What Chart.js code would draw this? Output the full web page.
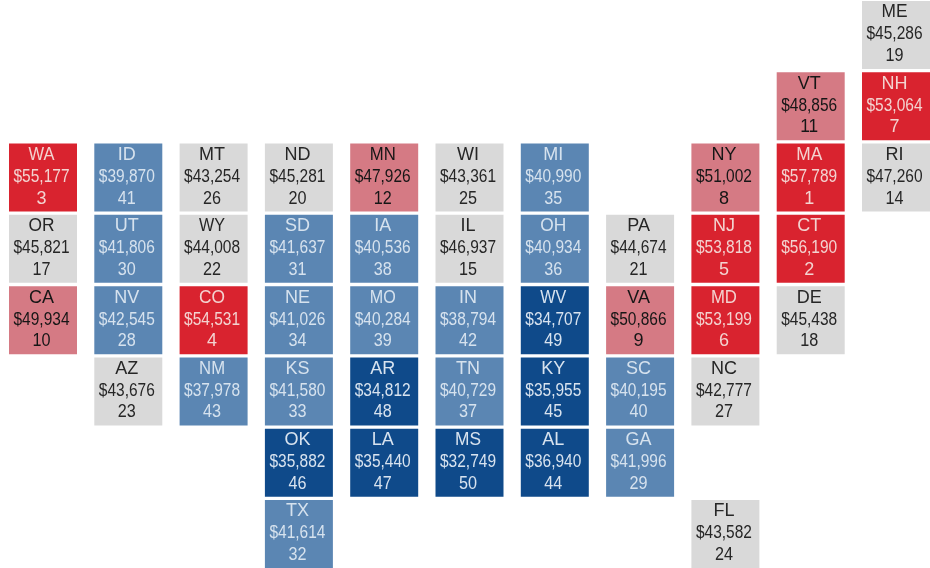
<!DOCTYPE html>
<html>
<head>
<meta charset="utf-8">
<style>
html,body{margin:0;padding:0;background:#fff;overflow:hidden}
#wrap{width:930px;height:568px;position:relative}
</style>
<script src="https://cdn.jsdelivr.net/npm/chart.js@4"></script>
</head>
<body>
<div id="wrap"><canvas id="c" width="930" height="568"></canvas></div>
<script>
const states  = ["ME","VT","NH","WA","ID","MT","ND","MN","WI","MI","NY","MA","RI","OR","UT","WY","SD","IA","IL","OH","PA","NJ","CT","CA","NV","CO","NE","MO","IN","WV","VA","MD","DE","AZ","NM","KS","AR","TN","KY","SC","NC","OK","LA","MS","AL","GA","TX","FL"];
const columns = [10,9,10,0,1,2,3,4,5,6,8,9,10,0,1,2,3,4,5,6,7,8,9,0,1,2,3,4,5,6,7,8,9,1,2,3,4,5,6,7,8,3,4,5,6,7,3,8];
const rows    = [0,1,1,2,2,2,2,2,2,2,2,2,2,3,3,3,3,3,3,3,3,3,3,4,4,4,4,4,4,4,4,4,4,5,5,5,5,5,5,5,5,6,6,6,6,6,7,7];
const incomes = [45286,48856,53064,55177,39870,43254,45281,47926,43361,40990,51002,57789,47260,45821,41806,44008,41637,40536,46937,40934,44674,53818,56190,49934,42545,54531,41026,40284,38794,34707,50866,53199,45438,43676,37978,41580,34812,40729,35955,40195,42777,35882,35440,32749,36940,41996,41614,43582];
const ranks   = [19,11,7,3,41,26,20,12,25,35,8,1,14,17,30,22,31,38,15,36,21,5,2,10,28,4,34,39,42,49,9,6,18,23,43,33,48,37,45,40,27,46,47,50,44,29,32,24];
const tiers   = ["grey","pink","red","red","blue","grey","grey","pink","grey","blue","pink","red","grey","grey","blue","grey","blue","blue","grey","blue","grey","red","red","pink","blue","red","blue","blue","blue","navy","pink","red","grey","grey","blue","blue","navy","blue","navy","blue","grey","navy","navy","navy","navy","blue","blue","grey"];

const fills = {red:"#d9232f", pink:"#d57a84", grey:"#d9d9d9", blue:"#5b86b3", navy:"#0f4a8a"};
const inks  = {red:"#f3d3d0", pink:"#161616", grey:"#262626", blue:"#d6e2ee", navy:"#d8e3ef"};

const tileLabels = {
  id: "tileLabels",
  afterDatasetsDraw(chart) {
    const {ctx, scales: {x, y}} = chart;
    ctx.save();
    ctx.textAlign = "center";
    ctx.textBaseline = "middle";
    ctx.font = '18px "Liberation Sans", Arial, sans-serif';
    states.forEach((s, i) => {
      const px = x.getPixelForValue(columns[i]) - 1.5;
      const py = y.getPixelForValue(rows[i]);
      ctx.fillStyle = inks[tiers[i]];
      ctx.fillText(s, px, py - 22.5, 26);
      ctx.fillText("$" + incomes[i].toLocaleString("en-US"), px, py - 0.5, 56);
      ctx.fillText(String(ranks[i]), px, py + 21, 18);
    });
    ctx.restore();
  }
};

new Chart(document.getElementById("c"), {
  type: "scatter",
  data: {
    datasets: [{
      data: states.map((s, i) => ({x: columns[i], y: rows[i]})),
      pointStyle: "rect",
      pointRadius: 48.08,
      pointHoverRadius: 48.08,
      pointBorderWidth: 0,
      pointBackgroundColor: tiers.map(t => fills[t]),
      clip: false
    }]
  },
  options: {
    responsive: false,
    animation: false,
    layout: {autoPadding: false, padding: {left: 43, right: 34, top: 35, bottom: 34}},
    plugins: {legend: {display: false}, tooltip: {enabled: false}},
    scales: {
      x: {type: "linear", min: 0, max: 10, display: false},
      y: {type: "linear", min: 0, max: 7, reverse: true, display: false}
    }
  },
  plugins: [tileLabels]
});
</script>
</body>
</html>
